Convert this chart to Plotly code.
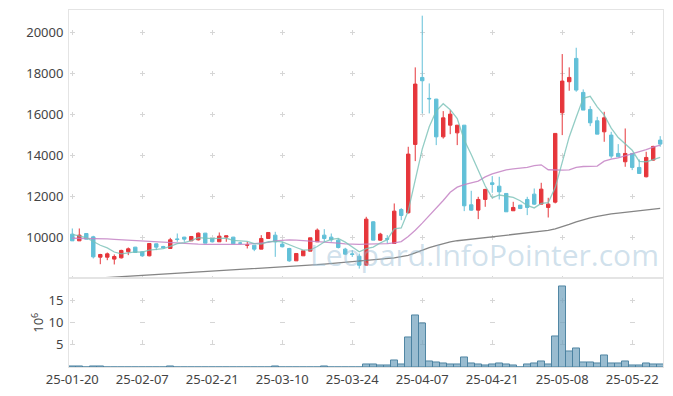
import plotly.graph_objects as go

# ---------------- data ----------------
dates = [
    "25-01-20", "25-01-21", "25-01-22", "25-01-23", "25-01-24", "25-01-31", "25-02-03", "25-02-04", "25-02-05", "25-02-06",
    "25-02-07", "25-02-10", "25-02-11", "25-02-12", "25-02-13", "25-02-14", "25-02-17", "25-02-18", "25-02-19", "25-02-20",
    "25-02-21", "25-02-24", "25-02-25", "25-02-26", "25-02-27", "25-02-28", "25-03-04", "25-03-05", "25-03-06", "25-03-07",
    "25-03-10", "25-03-11", "25-03-12", "25-03-13", "25-03-14", "25-03-17", "25-03-18", "25-03-19", "25-03-20", "25-03-21",
    "25-03-24", "25-03-25", "25-03-26", "25-03-27", "25-03-28", "25-03-31", "25-04-01", "25-04-02", "25-04-03", "25-04-04",
    "25-04-07", "25-04-08", "25-04-09", "25-04-10", "25-04-11", "25-04-14", "25-04-15", "25-04-16", "25-04-17", "25-04-18",
    "25-04-21", "25-04-22", "25-04-23", "25-04-24", "25-04-25", "25-04-28", "25-04-29", "25-04-30", "25-05-02", "25-05-07",
    "25-05-08", "25-05-09", "25-05-12", "25-05-13", "25-05-14", "25-05-15", "25-05-16", "25-05-19", "25-05-20", "25-05-21",
    "25-05-22", "25-05-23", "25-05-26", "25-05-27", "25-05-28",
]

opens = [
    10161, 9835, 10193, 10030, 9038, 9038, 8943, 9006, 9300, 9527,
    9300, 9104, 9690, 9560, 9462, 9930, 10015, 9835, 9884, 10210,
    9950, 9787, 10015, 10015, 9730, 9620, 9624, 9430, 9950, 10112,
    9675, 9462, 8860, 9104, 9332, 9787, 10112, 10015, 9868, 9430,
    9200, 9084, 8650, 10763, 9868, 9950, 9706, 11364, 11202, 14535,
    17802, 16780, 16744, 14905, 15475, 15100, 15475, 11592, 11332, 11852,
    12665, 12500, 12145, 11300, 11576, 11852, 12112, 11624, 11462, 11722,
    16078, 17592, 18730, 17072, 16242, 15687, 15150, 14990, 14096, 13690,
    14096, 13413, 12958, 13771, 14746,
]
highs = [
    10437, 10437, 10200, 10080, 9200, 9265, 9168, 9400, 9511, 9540,
    9330, 9720, 9700, 9590, 9980, 10193, 10030, 10060, 10242, 10220,
    9980, 10242, 10080, 10030, 9787, 9787, 9624, 10112, 10242, 10275,
    9787, 9494, 9218, 9348, 9982, 10437, 10405, 10193, 9950, 9494,
    9380, 9213, 11006, 10790, 10226, 10112, 11657, 11430, 14421, 18292,
    20813, 17510, 16760, 16160, 16208, 15475, 15475, 12275, 11982, 12372,
    12990, 12958, 12145, 11738, 11576, 11982, 12388, 12665, 11933, 15072,
    18942, 18292, 19250, 17218, 16400, 15882, 16127, 15150, 14551, 15313,
    14096, 13803, 14178, 14470, 14941,
]
lows = [
    9835, 9835, 9910, 8976, 8696, 8890, 8683, 8975, 9137, 9268,
    9055, 9080, 9380, 9480, 9462, 9787, 9787, 9835, 9850, 9722,
    9755, 9787, 9787, 9690, 9660, 9462, 9332, 9430, 9950, 9054,
    9512, 8812, 8860, 9104, 9332, 9787, 9787, 9787, 9462, 9137,
    9050, 8480, 8650, 9868, 9836, 9706, 9706, 10843, 11170, 13722,
    16048, 16048, 14502, 14820, 15035, 14502, 11283, 11300, 10893, 11494,
    12178, 11852, 11250, 11300, 11380, 11088, 11580, 11624, 10973, 11660,
    14990, 17153, 17104, 16210, 15428, 15037, 14665, 13852, 13934, 13446,
    13283, 13120, 12930, 13740, 14421,
]
closes = [
    9835, 10112, 9917, 9054, 9168, 9200, 9070, 9366, 9446, 9268,
    9104, 9706, 9527, 9490, 9884, 9900, 9917, 10047, 10210, 9722,
    9787, 10063, 10080, 9690, 9722, 9640, 9430, 9950, 10242, 9787,
    9545, 8860, 9218, 9348, 9982, 10356, 9950, 9884, 9510, 9186,
    9170, 8645, 10893, 9868, 10161, 9915, 11283, 11072, 14064, 17478,
    17640, 16760, 14905, 15832, 16012, 15475, 11543, 11332, 11852, 12340,
    12584, 12225, 11250, 11462, 11413, 11462, 11624, 12356, 11624, 15072,
    17624, 17802, 17185, 16210, 15590, 15037, 15832, 13966, 13934, 14096,
    13413, 13120, 13901, 14438, 14551,
]

ma5 = [
    10150, 10080, 9990, 9800, 9620, 9490, 9290, 9200, 9260, 9300,
    9280, 9380, 9420, 9450, 9560, 9700, 9750, 9850, 9990, 9960,
    9940, 9950, 9960, 9860, 9840, 9810, 9700, 9680, 9790, 9810,
    9780, 9660, 9510, 9380, 9390, 9560, 9780, 9910, 9950, 9770,
    9540, 9300, 9450, 9530, 9730, 9890, 10420, 10460, 11300, 12770,
    14310, 15400, 16170, 16520, 16230, 15800, 14750, 14040, 13240, 12510,
    11930, 12070, 12010, 11950, 11790, 11560, 11440, 11660, 11700, 12430,
    13660, 14900, 15860, 16780, 16880, 16370, 15970, 15330, 14870, 14570,
    14250, 13710, 13690, 13790, 13900,
]
ma20 = [
    9960, 9960, 9960, 9950, 9940, 9930, 9910, 9890, 9860, 9830,
    9800, 9780, 9760, 9740, 9720, 9705, 9690, 9680, 9670, 9660,
    9655, 9650, 9650, 9655, 9660, 9670, 9690, 9710, 9760, 9830,
    9870, 9880, 9870, 9850, 9830, 9800, 9780, 9760, 9720, 9690,
    9670, 9660, 9670, 9670, 9680, 9700, 9740, 9800, 10050, 10350,
    10700, 11050, 11400, 11800, 12200, 12450, 12580, 12650, 12750, 12950,
    13100, 13200, 13300, 13340, 13380, 13420, 13500, 13540, 13300, 13280,
    13280, 13290, 13420, 13460, 13470, 13480, 13720, 13820, 13880, 13980,
    14050, 14150, 14280, 14400, 14500,
]
ma60 = [
    7940, 7960, 7980, 8000, 8020, 8045, 8070, 8090, 8110, 8130,
    8150, 8170, 8190, 8210, 8230, 8250, 8270, 8295, 8320, 8340,
    8360, 8380, 8400, 8420, 8440, 8460, 8480, 8500, 8520, 8540,
    8560, 8580, 8600, 8625, 8650, 8670, 8700, 8730, 8760, 8790,
    8820, 8840, 8870, 8900, 8930, 8960, 9000, 9060, 9130, 9250,
    9380, 9500, 9600, 9700, 9780, 9840, 9880, 9920, 9960, 10000,
    10040, 10080, 10110, 10150, 10180, 10210, 10250, 10290, 10340, 10420,
    10520, 10640, 10760, 10870, 10960, 11030, 11100, 11150, 11190, 11230,
    11260, 11300, 11340, 11380, 11420,
]

# volume in millions of shares (bars too thin to see are read as 0)
volume_m = [
    0.2, 0.2, 0, 0.2, 0.2, 0, 0, 0, 0, 0,
    0, 0, 0, 0, 0.2, 0, 0, 0, 0, 0,
    0, 0, 0, 0, 0, 0, 0, 0, 0, 0.2,
    0, 0, 0, 0, 0, 0, 0.2, 0, 0, 0,
    0, 0, 0.55, 0.55, 0.3, 0.3, 1.5, 0.55, 6.6, 11.6,
    9.9, 1.2, 1.0, 0.75, 0.55, 0.55, 2.1, 0.75, 0.55, 0.35,
    0.55, 0.75, 0.55, 0.35, 0, 0.55, 0.75, 1.2, 0.55, 6.8,
    18.15, 3.4, 4.2, 0.95, 0.95, 0.75, 2.6, 0.75, 0.75, 1.2,
    0.35, 0.35, 0.75, 0.55, 0.55,
]

tick_dates = dates[::10]
price_ticks = [10000, 12000, 14000, 16000, 18000, 20000]
volume_ticks = [5, 10, 15]

# ---------------- styles ----------------
UP = "#E6363B"
DOWN = "#62C0D8"
GRID = "#d6d6d6"
BORDER = "#e4e4e4"
FONT = "Noto Sans"
TXT = "#444444"

fig = go.Figure()

fig.add_trace(go.Candlestick(
    x=dates, open=opens, high=highs, low=lows, close=closes,
    increasing=dict(line=dict(color=UP, width=1), fillcolor=UP),
    decreasing=dict(line=dict(color=DOWN, width=1), fillcolor=DOWN),
    whiskerwidth=0, xaxis="x", yaxis="y", showlegend=False, hoverinfo="skip",
))
fig.add_trace(go.Scatter(x=dates, y=ma60, mode="lines", xaxis="x", yaxis="y",
                         line=dict(color="rgba(120,120,120,0.9)", width=1.3),
                         showlegend=False, hoverinfo="skip"))
fig.add_trace(go.Scatter(x=dates, y=ma20, mode="lines", xaxis="x", yaxis="y",
                         line=dict(color="rgba(196,130,196,0.85)", width=1.3),
                         showlegend=False, hoverinfo="skip"))
fig.add_trace(go.Scatter(x=dates, y=ma5, mode="lines", xaxis="x", yaxis="y",
                         line=dict(color="rgba(120,192,182,0.8)", width=1.3),
                         showlegend=False, hoverinfo="skip"))

fig.add_trace(go.Bar(
    x=dates, y=volume_m, xaxis="x2", yaxis="y2",
    marker=dict(color="rgba(110,160,188,0.7)", line=dict(color="rgba(75,130,160,0.95)", width=1)),
    showlegend=False, hoverinfo="skip",
))

xr = [-0.47, 84.4]
common_x = dict(type="category", range=xr, tickvals=tick_dates, showgrid=True, gridcolor=GRID,
                gridwidth=1, showline=True, linecolor=BORDER, linewidth=1, mirror=True,
                ticks="", zeroline=False, fixedrange=True, automargin=False)

fig.update_layout(
    template="none",
    width=673, height=396, autosize=False,
    margin=dict(l=61, r=18, t=2, b=37, autoexpand=False),
    paper_bgcolor="white", plot_bgcolor="white",
    font=dict(family=FONT, size=13, color=TXT),
    showlegend=False, bargap=0,
    xaxis=dict(domain=[0, 1], anchor="y", showticklabels=False,
               rangeslider=dict(visible=False),
               griddash="0px,19.86px,5px,16.16px", **common_x),
    yaxis=dict(domain=[0.248, 1], anchor="x", range=[8000, 21090], tickvals=price_ticks,
               tickformat="d", automargin=False,
               showgrid=True, gridcolor=GRID, griddash="0px,0.8px,5px,64.2px",
               showline=True, linecolor=BORDER, mirror=True, zeroline=False,
               ticks="outside", ticklen=2, tickcolor="rgba(0,0,0,0)",
               tickfont=dict(family=FONT, size=13, color=TXT)),
    xaxis2=dict(domain=[0, 1], anchor="y2", matches="x", showticklabels=True,
                tickfont=dict(family=FONT, size=13, color=TXT),
                griddash="0px,19.6px,5px,17.1px", **common_x),
    yaxis2=dict(domain=[0, 0.248], anchor="x2", range=[0, 20], tickvals=volume_ticks,
                tickformat="d", automargin=False,
                showgrid=True, gridcolor=GRID, griddash="0px,0.8px,5px,64.2px",
                showline=True, linecolor=BORDER, mirror=True, zeroline=False,
                ticks="outside", ticklen=2, tickcolor="rgba(0,0,0,0)",
                tickfont=dict(family=FONT, size=13, color=TXT),
                title=dict(text="10<sup>6</sup>", font=dict(family=FONT, size=13, color=TXT), standoff=1)),
    annotations=[dict(
        text="Leopard.InfoPointer.com", xref="paper", yref="paper",
        x=0.699, y=0.314, xanchor="center", yanchor="middle", showarrow=False,
        font=dict(family="Open Sans", size=30, color="rgba(150,188,212,0.45)"),
    )],
)

fig.write_html("out.html")
